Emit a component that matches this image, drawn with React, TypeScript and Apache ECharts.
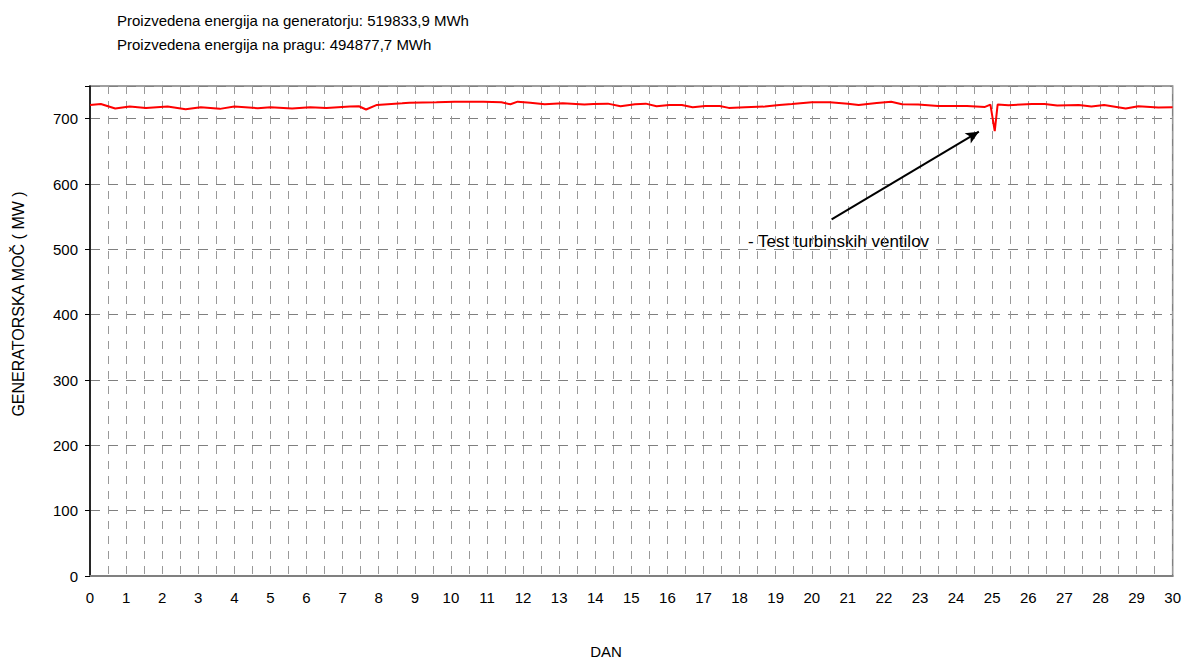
import React, { useEffect, useRef } from "react";
import * as echarts from "echarts";

const titleLines = [
  "Proizvedena energija na generatorju: 519833,9 MWh",
  "Proizvedena energija na pragu: 494877,7 MWh",
];
const yAxisTitle = "GENERATORSKA MOČ ( MW )";
const xAxisTitle = "DAN";
const annotationText = "- Test turbinskih ventilov";

const days = [
  0, 0.3, 0.7, 1.1, 1.55, 2.15, 2.65, 3.07, 3.6, 4.0, 4.65, 5.0, 5.6, 6.1, 6.55,
  7.2, 7.45, 7.65, 7.95, 8.65, 8.85, 9.6, 10.1, 10.9, 11.4, 11.65, 11.85, 12.2,
  12.6, 13.1, 13.7, 13.95, 14.35, 14.7, 15.1, 15.4, 15.7, 16.05, 16.4, 16.7,
  17.05, 17.45, 17.7, 18.15, 18.7, 19.1, 19.45, 20.0, 20.5, 21.0, 21.3, 21.8,
  22.2, 22.5, 22.95, 23.5, 24.3, 24.8, 24.95, 25.07, 25.15, 25.45, 26.1, 26.45,
  26.8, 27.4, 27.75, 28.1, 28.7, 29.05, 29.6, 30,
];
const power = [
  721, 722.5, 715.5, 718.5, 716.5, 718.5, 714.5, 717.5, 715, 718.5, 716, 717.5,
  715.5, 717.5, 716.5, 718.5, 719, 714, 721, 723.5, 724.5, 725, 726, 726, 725,
  722, 726, 724.5, 722, 723.5, 721.5, 722.5, 723, 719, 722, 723, 719, 721, 721,
  717.5, 719.5, 719.5, 716.5, 717.5, 718.5, 721, 722.5, 725, 725, 723, 721, 724,
  726, 722, 721.5, 719.5, 719.5, 718, 721.5, 681, 721.5, 720.5, 722.5, 722.5,
  720, 721, 718.5, 721, 715.5, 719, 717, 717.5,
];
// annotation arrow in data coordinates: [day, MW]
const arrowStart = [20.55, 546];
const arrowEnd = [24.63, 680];

export default function App() {
  const ref = useRef<HTMLDivElement>(null);
  useEffect(() => {
    if (!ref.current) return;
    const chart = echarts.init(ref.current, null, { renderer: "svg" });
    const font = "'Liberation Sans', Arial, sans-serif";
    chart.setOption({
      animation: false,
      backgroundColor: "#ffffff",
      textStyle: { fontFamily: font },
      grid: {
        left: 90,
        right: 9,
        top: 86,
        bottom: 84,
        show: true,
        borderColor: "#808080",
        borderWidth: 1.5,
      },
      graphic: [
        {
          type: "text",
          left: 117,
          top: 13,
          style: { text: titleLines[0], font: `15px ${font}`, fill: "#000" },
        },
        {
          type: "text",
          left: 117,
          top: 37,
          style: { text: titleLines[1], font: `15px ${font}`, fill: "#000" },
        },
        {
          type: "text",
          x: 18,
          y: 304,
          rotation: Math.PI / 2,
          style: {
            text: yAxisTitle,
            font: `16px ${font}`,
            fill: "#000",
            align: "center",
            verticalAlign: "middle",
          },
        },
        {
          type: "text",
          x: 606,
          y: 651,
          style: {
            text: xAxisTitle,
            font: `15px ${font}`,
            fill: "#000",
            align: "center",
            verticalAlign: "middle",
          },
        },
        {
          type: "text",
          x: 748,
          y: 241,
          style: {
            text: annotationText,
            font: `17px ${font}`,
            fill: "#000",
            align: "left",
            verticalAlign: "middle",
          },
        },
      ],
      xAxis: {
        type: "value",
        min: 0,
        max: 30,
        interval: 0.5,
        axisLine: { show: true, lineStyle: { color: "#808080", width: 2 } },
        axisTick: { show: false },
        axisLabel: {
          color: "#000",
          fontSize: 15,
          margin: 14,
          formatter: (v: number) => (Number.isInteger(v) ? String(v) : ""),
        },
        splitLine: {
          show: true,
          lineStyle: { color: "#999999", type: [8, 7], width: 1 },
        },
      },
      yAxis: {
        type: "value",
        min: 0,
        max: 750,
        interval: 100,
        axisLine: { show: true, onZero: false, lineStyle: { color: "#000", width: 1.5 } },
        axisTick: { show: true, inside: false, length: 5, lineStyle: { color: "#000" } },
        axisLabel: {
          color: "#000",
          fontSize: 15,
          margin: 12,
          formatter: (v: number) => (v % 100 === 0 ? String(v) : ""),
        },
        splitLine: {
          show: true,
          lineStyle: { color: "#808080", type: [10, 8], width: 1 },
        },
      },
      series: [
        {
          type: "line",
          data: days.map((d, i) => [d, power[i]]),
          showSymbol: false,
          lineStyle: { color: "#ff0000", width: 2 },
          itemStyle: { color: "#ff0000" },
          z: 5,
          markLine: {
            silent: true,
            symbol: ["none", "arrow"],
            symbolSize: [9, 13],
            label: { show: false },
            lineStyle: { color: "#000", width: 2, type: "solid" },
            data: [
              [
                { coord: arrowStart, symbol: "none" },
                { coord: arrowEnd, symbol: "arrow" },
              ],
            ],
          },
        },
      ],
    });
    return () => chart.dispose();
  }, []);
  return (
    <div
      ref={ref}
      style={{ position: "fixed", left: 0, top: 0, width: 1184, height: 660 }}
    />
  );
}
